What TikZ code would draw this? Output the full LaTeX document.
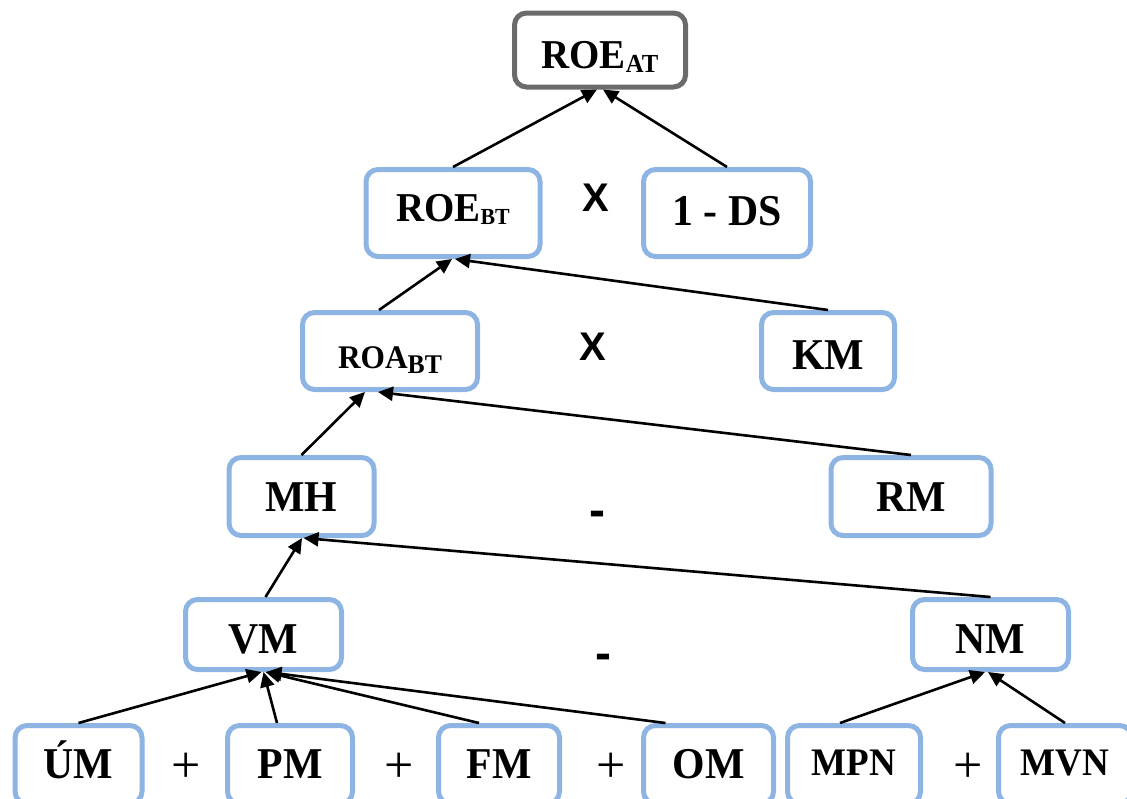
\documentclass[tikz,border=0pt]{standalone}
\usepackage{fontspec}
\setmainfont{Liberation Serif}
\newfontfamily\boxfont[FakeStretch=0.95]{Liberation Serif}
\newfontfamily\opfont{Liberation Sans}
\usetikzlibrary{arrows.meta}

\definecolor{boxblue}{RGB}{141,180,226}
\definecolor{topgray}{RGB}{107,107,107}

% lowered subscript: drop, size, text
\newcommand{\lowsub}[3]{\raisebox{-#1}{\fontsize{#2}{#2}\selectfont #3}}

\begin{document}
\begin{tikzpicture}[
  x=0.5pt,y=-0.5pt,
  box/.style={draw=boxblue,line width=2.5pt,rounded corners=6pt,fill=white,align=center,inner sep=0pt,
    font=\boxfont\bfseries\fontsize{22}{22}\selectfont,text height=14.4pt,text depth=0pt},
  topbox/.style={box,draw=topgray},
  small/.style={font=\boxfont\bfseries\fontsize{19.5}{19.5}\selectfont},
  arr/.style={-{Triangle[length=7.5pt,width=7pt]},line width=1.3pt},
  opx/.style={inner sep=0pt,font=\opfont\bfseries\fontsize{20}{20}\selectfont},
  opm/.style={inner sep=0pt,font=\opfont\bfseries\fontsize{24}{24}\selectfont},
  opp/.style={inner sep=0pt,font=\fontsize{26}{26}\selectfont},
]
\useasboundingbox (0,0) rectangle (1127,798);
\clip (0,0) rectangle (1127,798);

% top levels
\node[topbox,minimum width=85.5pt,minimum height=37pt,text height=18.4pt] (roeat) at (600,50)
  {\fontsize{20.5}{20.5}\selectfont ROE\lowsub{2pt}{13pt}{AT}};
\node[box,minimum width=87pt,minimum height=43.5pt,text height=8.9pt] (roebt) at (453,213)
  {\fontsize{20.5}{20.5}\selectfont ROE\lowsub{1.5pt}{11.5pt}{BT}};
\node[box,minimum width=83.5pt,minimum height=43.5pt,text height=12.4pt] (ds) at (727,213) {1 - DS};
\node[box,minimum width=87.5pt,minimum height=38.5pt,text height=17pt] (roa) at (390,351)
  {\fontsize{16.5}{16.5}\selectfont ROA\lowsub{2.5pt}{13.5pt}{BT}};
\node[box,minimum width=66.5pt,minimum height=38.5pt,text height=18.4pt] (km) at (828,351) {KM};
\node[box,minimum width=72.5pt,minimum height=39pt,text height=15.4pt] (mh) at (301.5,496.5) {MH};
\node[box,minimum width=80pt,minimum height=39pt,text height=15.4pt] (rm) at (911,496.5) {RM};
\node[box,minimum width=78pt,minimum height=35pt,text height=18.9pt] (vm) at (263.5,634.5) {VM};
\node[box,minimum width=78pt,minimum height=35pt,text height=18.9pt] (nm) at (990.5,634.5) {NM};

% bottom row
\node[box,minimum width=63.5pt,minimum height=39pt] (um) at (78.5,764.5) {ÚM};
\node[box,minimum width=62.5pt,minimum height=39pt] (pm) at (290,764.5) {PM};
\node[box,minimum width=60.5pt,minimum height=39pt] (fm) at (499,764.5) {FM};
\node[box,minimum width=65pt,minimum height=39pt] (om) at (708.5,764.5) {OM};
\node[box,small,minimum width=66.5pt,minimum height=39pt,text height=10.8pt] (mpn) at (854,764.5) {MPN};
\node[box,small,minimum width=66.5pt,minimum height=39pt,text height=10.8pt] (mvn) at (1065,764.5) {MVN};

% operators
\node[opx] (x1) at (596,198) {X};
\node[opx] (x2) at (593,347) {X};
\node[opm] (m1) at (597,519) {-};
\node[opm] (m2) at (603,662) {-};
\node[opp] (p1) at (186.5,767.5) {+};
\node[opp] (p2) at (399,767.5) {+};
\node[opp] (p3) at (611.5,767.5) {+};
\node[opp] (p4) at (968,767.5) {+};

% arrows
\draw[arr] (roebt.north) -- ([xshift=-1.5pt]roeat.south);
\draw[arr] (ds.north) -- ([xshift=1.5pt]roeat.south);
\draw[arr] ([xshift=-5.5pt]roa.north) -- ([xshift=-0.5pt]roebt.south);
\draw[arr] (km.north) -- ([xshift=1pt]roebt.south);
\draw[arr] (mh.north) -- ([xshift=-12.5pt]roa.south);
\draw[arr] (rm.north) -- ([xshift=-6pt]roa.south);
\draw[arr] ([xshift=1pt]vm.north) -- ([xshift=0.25pt]mh.south);
\draw[arr] (nm.north) -- ([xshift=1pt]mh.south);
\draw[arr] (um.north) -- ([xshift=-1pt]vm.south);
\draw[arr] ([xshift=-6.5pt]pm.north) -- (vm.south);
\draw[arr] ([xshift=-10pt]fm.north) -- ([xshift=1pt]vm.south);
\draw[arr] ([xshift=-21.5pt]om.north) -- ([xshift=1.5pt]vm.south);
\draw[arr] ([xshift=-7pt]mpn.north) -- ([xshift=-2.75pt]nm.south);
\draw[arr] (mvn.north) -- ([xshift=-1.25pt]nm.south);
\end{tikzpicture}
\end{document}
